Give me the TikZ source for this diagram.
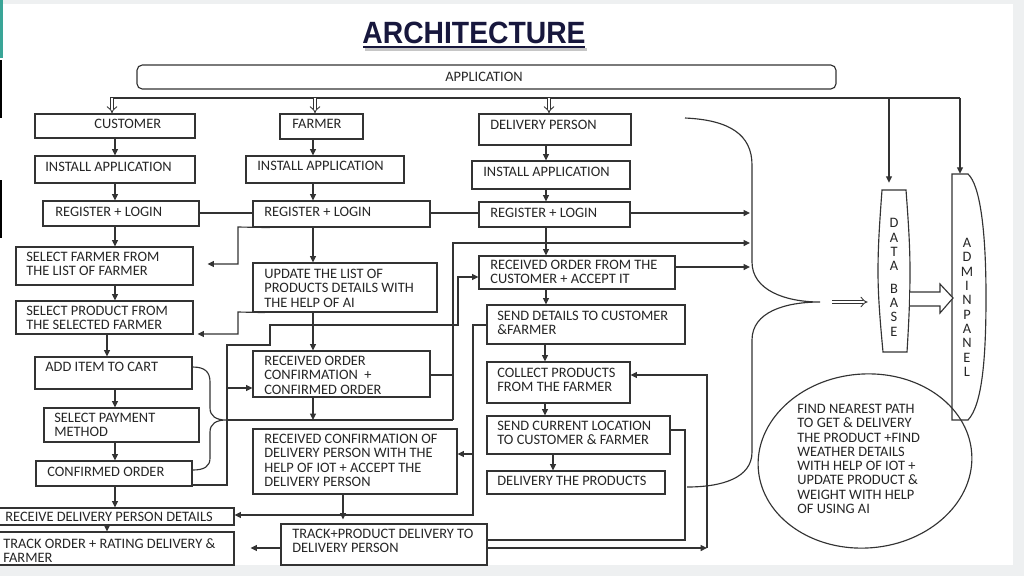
\documentclass[tikz,border=0pt]{standalone}
\usepackage{fontspec}
\setmainfont{Carlito}
\newfontfamily\headfont{Liberation Sans}
\usetikzlibrary{arrows.meta,fit}

\definecolor{inkgray}{HTML}{333333}
\definecolor{headnavy}{HTML}{17173D}
\definecolor{slidegray}{HTML}{EEF0F1}
\definecolor{slideteal}{HTML}{3AA597}

\begin{document}
\begin{tikzpicture}[x=0.02cm, y=-0.02cm,
  box/.style={draw=inkgray, line width=0.65pt, inner sep=0pt},
  txt/.style={font=\fontsize{8.2}{8.1}\selectfont, text=black!85, inner sep=0pt, anchor=north west, align=left},
  vchar/.style={font=\fontsize{8.2}{8.1}\selectfont, text=black!85, inner sep=0pt},
  lnk/.style={draw=inkgray, line width=0.65pt},
  arr/.style={lnk, -{Triangle[length=3.6pt,width=3.4pt]}},
  hollow/.style={draw=inkgray, line width=0.5pt, double, double distance=1.6pt, -{Implies}}]
  \useasboundingbox (0,0) rectangle (1024,576);
  \clip (0,0) rectangle (1024,576);
  % slide background
  \fill[slidegray] (0,0) rectangle (1024,576);
  \fill[white] (0,4) rectangle (1013,565);
  \fill[slideteal] (0,0) rectangle (3,58);
  \fill[black] (0,60) rectangle (2,118);
  \fill[black] (0,180) rectangle (2,238);

  % Title
  \draw[gray!45, line width=1.6pt] (365,49.5) -- (587,49.5);
  \draw[headnavy, line width=1.3pt] (363,47) -- (585,47);
  \node[font=\headfont\bfseries\fontsize{17.5}{17.5}\selectfont, text=headnavy, xscale=0.92, inner sep=0pt] (title) at (474,33) {ARCHITECTURE};

  % Application bar and its bus
  \node[box, rounded corners=3pt, fit={(137,65) (836,89)}] (app) {};
  \node[vchar] (appT) at (484,76.5) {APPLICATION};
  \coordinate (busL) at (110,98);
  \coordinate (busR) at (960,98);
  \draw[lnk] (busL) -- (busR);

  % column axes
  \coordinate (cx) at (115,0);
  \coordinate (fx) at (313,0);
  \coordinate (dx) at (546,0);

  % Customer column
  \node[box, fit={(35,114) (195,138)}] (cCust) {};
  \node[txt] (cCustT) at (94,119) {CUSTOMER};
  \node[box, fit={(35,156) (195,183)}] (cInst) {};
  \node[txt] (cInstT) at (45,162) {INSTALL APPLICATION};
  \node[box, fit={(43,201) (199,226)}] (cReg) {};
  \node[txt] (cRegT) at (55,207) {REGISTER + LOGIN};
  \node[box, fit={(16,247) (193,285)}] (cSelF) {};
  \node[txt] (cSelFT) at (26,252) {SELECT FARMER FROM\\THE LIST OF FARMER};
  \node[box, fit={(16,301) (193,334)}] (cSelP) {};
  \node[txt] (cSelPT) at (26,306) {SELECT PRODUCT FROM\\THE SELECTED FARMER};
  \node[box, fit={(35,357) (192,389)}] (cAdd) {};
  \node[txt] (cAddT) at (45,362) {ADD ITEM TO CART};
  \node[box, fit={(44,408) (199,442)}] (cPay) {};
  \node[txt] (cPayT) at (54,413) {SELECT PAYMENT\\METHOD};
  \node[box, fit={(36,461) (192,486)}] (cConf) {};
  \node[txt] (cConfT) at (47,467) {CONFIRMED ORDER};
  \node[box, fit={(-2,508) (234,525)}] (cRecv) {};
  \node[txt] (cRecvT) at (5,512) {RECEIVE DELIVERY PERSON DETAILS};
  \node[box, fit={(-2,532) (234,565)}] (cTrack) {};
  \node[txt] (cTrackT) at (3,538) {TRACK ORDER + RATING DELIVERY \&\\FARMER};

  % Farmer column
  \node[box, fit={(280,114) (363,139)}] (fFarm) {};
  \node[txt] (fFarmT) at (292,119) {FARMER};
  \node[box, fit={(246,156) (404,183)}] (fInst) {};
  \node[txt] (fInstT) at (257,161) {INSTALL APPLICATION};
  \node[box, fit={(253,201) (430,227)}] (fReg) {};
  \node[txt] (fRegT) at (264,207) {REGISTER + LOGIN};
  \node[box, fit={(253,263) (437,312)}] (fUpd) {};
  \node[txt] (fUpdT) at (264,269) {UPDATE THE LIST OF\\PRODUCTS DETAILS WITH\\THE HELP OF AI};
  \node[box, fit={(253,351) (430,397)}] (fRec) {};
  \node[txt] (fRecT) at (264,356) {RECEIVED ORDER\\CONFIRMATION\ \ +\\CONFIRMED ORDER};
  \node[box, fit={(253,429) (457,494)}] (fConf) {};
  \node[txt] (fConfT) at (264,434) {RECEIVED CONFIRMATION OF\\DELIVERY PERSON WITH THE\\HELP OF IOT + ACCEPT THE\\DELIVERY PERSON};
  \node[box, fit={(281,524) (487,565)}] (fTrack) {};
  \node[txt] (fTrackT) at (292,529) {TRACK+PRODUCT DELIVERY TO\\DELIVERY PERSON};

  % Delivery person column
  \node[box, fit={(479,114) (631,145)}] (dPers) {};
  \node[txt] (dPersT) at (490,120) {DELIVERY PERSON};
  \node[box, fit={(472,161) (630,189)}] (dInst) {};
  \node[txt] (dInstT) at (483,167) {INSTALL APPLICATION};
  \node[box, fit={(479,202) (630,227)}] (dReg) {};
  \node[txt] (dRegT) at (490,208) {REGISTER + LOGIN};
  \node[box, fit={(479,256) (675,289)}] (dRecv) {};
  \node[txt] (dRecvT) at (490,260) {RECEIVED ORDER FROM THE\\CUSTOMER + ACCEPT IT};
  \node[box, fit={(487,305) (685,344)}] (dSend) {};
  \node[txt] (dSendT) at (497,311) {SEND DETAILS TO CUSTOMER\\\&FARMER};
  \node[box, fit={(487,362) (630,403)}] (dCol) {};
  \node[txt] (dColT) at (497,368) {COLLECT PRODUCTS\\FROM THE FARMER};
  \node[box, fit={(487,416) (670,454)}] (dLoc) {};
  \node[txt] (dLocT) at (497,421) {SEND CURRENT LOCATION\\TO CUSTOMER \& FARMER};
  \node[box, fit={(487,471) (665,494)}] (dDel) {};
  \node[txt] (dDelT) at (497,476) {DELIVERY THE PRODUCTS};

  % Data base and admin panel
  \node[fit={(878,190) (910,352)}, inner sep=0pt] (db) {};
  \draw[lnk, fill=white] (882,190) -- (906,190)
    .. controls (909,230) and (910,250) .. (910,272)
    .. controls (910,295) and (909,320) .. (907,352) -- (883,352)
    .. controls (880,320) and (878,295) .. (878,272)
    .. controls (878,250) and (879,230) .. (882,190) -- cycle;
  \foreach \ch/\yy [count=\k] in {D/223,A/238,T/252,A/266,B/289,A/303,S/317,E/332}
    \node[vchar] (db\k) at (894,\yy) {\ch};
  \node[fit={(952,174) (987,420)}, inner sep=0pt] (adm) {};
  \draw[lnk, fill=white] (952,174) -- (968,174)
    .. controls (980,185) and (986,230) .. (986,297)
    .. controls (986,360) and (982,405) .. (968,420) -- (952,420) -- cycle;
  \foreach \ch [count=\k from 0] in {A,D,M,I,N,P,A,N,E,L}
    \node[vchar] (adm\k) at (967,{243+14.3*\k}) {\ch};
  % fat arrow data base -> admin panel
  \draw[lnk, fill=white] (910,292) -- (940,292) -- (940,284) -- (953,298)
    -- (940,313) -- (940,306) -- (910,306);

  % Cloud of AI / IOT tasks
  \coordinate (ell) at (865,461);
  \draw[lnk, rotate around={4.5:(ell)}] (ell) ellipse (107 and 87);
  \node[txt] (ellT) at (797,404) {FIND NEAREST PATH\\TO GET \& DELIVERY\\THE PRODUCT +FIND\\WEATHER DETAILS\\WITH HELP OF IOT +\\UPDATE PRODUCT \&\\WEIGHT WITH HELP\\OF USING AI};

  % Bus drops
  \draw[hollow] (busL -| 112,0) -- (cCust.north -| 112,0);
  \draw[hollow] (busL -| 315,0) -- (fFarm.north -| 315,0);
  \draw[hollow] (busL -| 549,0) -- (dPers.north -| 549,0);
  \draw[arr, shorten >=0.14cm] (busR -| 889,0) -- (db.north -| 889,0);
  \draw[arr] (busR) -- (adm.north -| busR);

  % Customer flow
  \draw[arr] (cCust.south -| cx) -- (cInst.north -| cx);
  \draw[arr] (cInst.south -| cx) -- (cReg.north -| cx);
  \draw[arr] (cReg.south -| cx) -- (cSelF.north -| cx);
  \draw[arr] (cSelF.south -| cx) -- (cSelP.north -| cx);
  \draw[arr] (cSelP.south -| 107,0) -- (cAdd.north -| 107,0);
  \draw[arr] (cAdd.south -| cx) -- (cPay.north -| cx);
  \draw[arr] (cPay.south -| cx) -- (cConf.north -| cx);
  \draw[arr] (cConf.south -| cx) -- (cRecv.north -| cx);
  \draw[arr] (cRecv.south -| 107,0) -- (cTrack.north -| 107,0);

  % Farmer flow
  \draw[arr] (fFarm.south -| fx) -- (fInst.north -| fx);
  \draw[arr] (fInst.south -| fx) -- (fReg.north -| fx);
  \draw[arr] (fReg.south -| fx) -- (fUpd.north -| fx);
  \draw[arr] (fUpd.south -| fx) -- (fRec.north -| fx);
  \coordinate (ordHub) at (226,420);
  \coordinate (ordBus) at (453,420);
  \draw[arr] (fRec.south -| fx) -- (fx |- ordBus);
  \draw[arr, shorten >=0.08cm] (fConf.south -| 343,0) -- (fTrack.north -| 343,0);

  % Delivery person flow
  \draw[arr] (dPers.south -| dx) -- (dInst.north -| dx);
  \draw[arr] (dInst.south -| dx) -- (dReg.north -| dx);
  \draw[arr] (dReg.south -| dx) -- (dRecv.north -| dx);
  \draw[arr] (dRecv.south -| dx) -- (dSend.north -| dx);
  \draw[arr] (dSend.south -| 545,0) -- (dCol.north -| 545,0);
  \draw[arr] (dCol.south -| 545,0) -- (dLoc.north -| 545,0);
  \draw[arr] (dLoc.south -| 553,0) -- (dDel.north -| 553,0);

  % Register links
  \draw[lnk] (cReg.east |- 0,213) -- (fReg.west |- 0,213);
  \draw[lnk] (fReg.east |- 0,213) -- (dReg.west |- 0,213);

  % Farmer list feeds the customer
  \draw[arr, shorten >=0.28cm] (fReg.south -| 270,0) -- (238,227) -- (238,264) -- (cSelF.east |- 0,264);
  \draw[arr, shorten >=0.08cm] (fUpd.south -| 265,0) -- (238,312) -- (238,334) -- (cSelP.east |- 0,334);

  % Cart, payment and order gathered
  \draw[lnk] (cAdd.east |- 0,367) .. controls (205,367) and (210,372) .. (210,382) -- (210,408)
    .. controls (210,416) and (216,420) .. (ordHub)
    .. controls (216,420) and (210,424) .. (210,432) -- (210,458)
    .. controls (210,466) and (205,470) .. (cConf.east |- 0,470);
  \draw[lnk] (ordHub) -- (ordBus);
  \coordinate (hubIn) at (750,0);
  \draw[arr] (ordBus) -- (453,243) -- (hubIn |- 0,243);
  \draw[lnk] (fRec.east |- 0,375) -- (453,375);
  \draw[arr] (cConf.east |- 0,485) -- (227,485) -- (227,345) -- (270,345) -- (270,325)
    -- (458,325) -- (458,277) -- (dRecv.west |- 0,277);
  \draw[arr] (227,388) -- (fRec.west |- 0,388);

  % Details back to customer and farmer
  \draw[arr] (dSend.west |- 0,325) -- (473,325) -- (473,515) -- (cRecv.east |- 0,515);
  \draw[arr] (473,454) -- (fConf.east |- 0,454);
  \draw[arr, shorten >=0.32cm] (fTrack.west |- 0,548) -- (cTrack.east |- 0,548);

  % Location and tracking loop
  \draw[lnk] (dLoc.east |- 0,430) -- (685,430) -- (685,540) -- (fTrack.east |- 0,540);
  \coordinate (loopc) at (707,548);
  \draw[arr] (fTrack.east |- loopc) -- (loopc);
  \draw[arr] (loopc) -- (707,375) -- (dCol.east |- 0,375);

  % Everything gathered to the data base
  \coordinate (hubTop) at (685,118);
  \coordinate (hub) at (820,302);
  \coordinate (hubEnd) at (687,487);
  \draw[lnk] (hubTop) .. controls (730,120) and (752,135) .. (752,165) -- (752,262)
    .. controls (752,290) and (785,302) .. (hub)
    .. controls (785,302) and (752,312) .. (752,340) -- (752,452)
    .. controls (752,478) and (722,487) .. (hubEnd);
  \draw[arr] (dReg.east |- 0,213) -- (hubIn |- 0,213);
  \draw[arr] (dRecv.east |- 0,267) -- (hubIn |- 0,267);
  \draw[hollow, shorten <=0.24cm, shorten >=0.2cm] (hub) -- (hub -| db.west);
\end{tikzpicture}
\end{document}
